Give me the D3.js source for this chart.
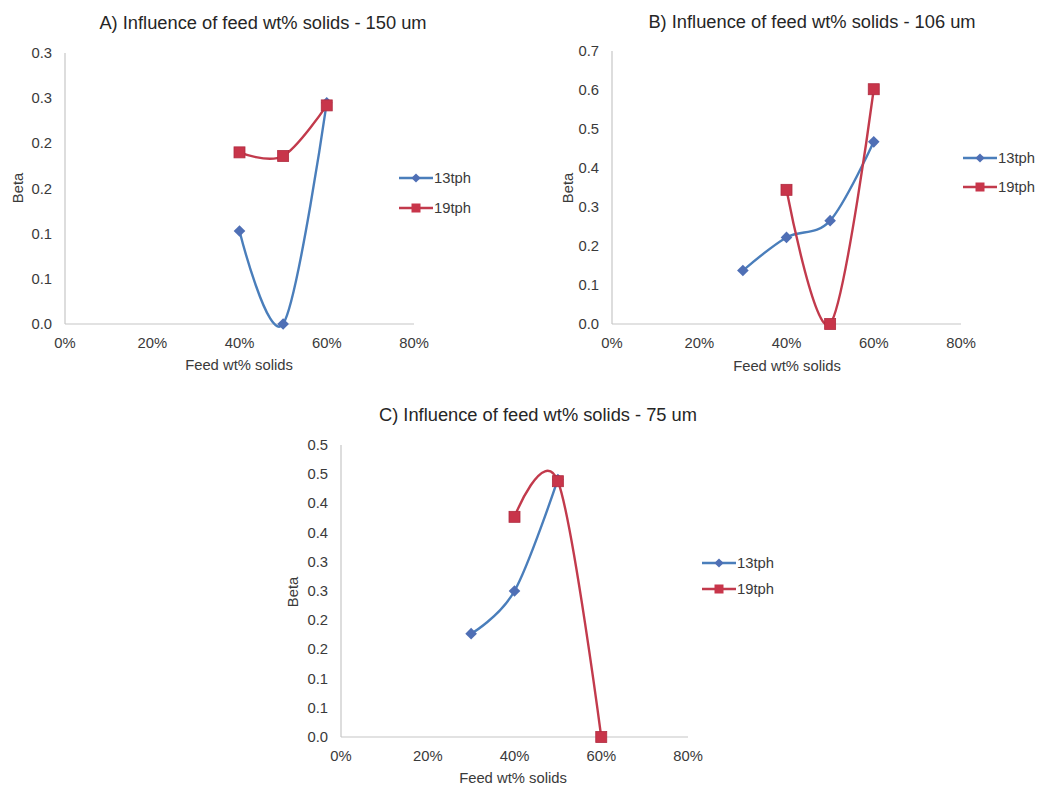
<!DOCTYPE html>
<html>
<head>
<meta charset="utf-8">
<script src="https://cdn.jsdelivr.net/npm/d3@7"></script>
<style>
  html, body { margin: 0; padding: 0; background: #ffffff; }
  svg { display: block; }
  text { font-family: "Liberation Sans", Arial, sans-serif; fill: #3a3a3a; }
</style>
</head>
<body>
<svg id="chart" width="1041" height="796"></svg>
<script>
// Feed solids (%) on the x axis, shared by all panels
const xTicks = [0, 20, 40, 60, 80];
const xTickLabels = ["0%", "20%", "40%", "60%", "80%"];

const seriesNames = ["13tph", "19tph"];

// Panel A: 150 um
const titleA = "A) Influence of feed wt% solids - 150 um";
const a13x = [40, 50, 60];
const a13y = [0.103, 0.0, 0.245];
const a19x = [40, 50, 60];
const a19y = [0.190, 0.186, 0.242];
const aYTicks = [0, 0.05, 0.10, 0.15, 0.20, 0.25, 0.30];
const aYTickLabels = ["0.0", "0.1", "0.1", "0.2", "0.2", "0.3", "0.3"];

// Panel B: 106 um
const titleB = "B) Influence of feed wt% solids - 106 um";
const b13x = [30, 40, 50, 60];
const b13y = [0.137, 0.222, 0.265, 0.467];
const b19x = [40, 50, 60];
const b19y = [0.344, 0.0, 0.602];
const bYTicks = [0, 0.1, 0.2, 0.3, 0.4, 0.5, 0.6, 0.7];
const bYTickLabels = ["0.0", "0.1", "0.2", "0.3", "0.4", "0.5", "0.6", "0.7"];

// Panel C: 75 um
const titleC = "C) Influence of feed wt% solids - 75 um";
const c13x = [30, 40, 50];
const c13y = [0.177, 0.250, 0.441];
const c19x = [40, 50, 60];
const c19y = [0.377, 0.438, 0.0];
const cYTicks = [0, 0.05, 0.10, 0.15, 0.20, 0.25, 0.30, 0.35, 0.40, 0.45, 0.50];
const cYTickLabels = ["0.0", "0.1", "0.1", "0.2", "0.2", "0.3", "0.3", "0.4", "0.4", "0.5", "0.5"];

const xAxisTitle = "Feed wt% solids";
const yAxisTitle = "Beta";

const colors = { line13: "#4a7ebb", mark13: "#4f6fb5", line19: "#c23a4c", mark19: "#c8354a" };

const svg = d3.select("#chart");

function zip(xs, ys) { return xs.map((x, i) => ({ x: x, y: ys[i] })); }

// diamond marker with half-diagonal r
function diamondPath(r) { return `M0,${-r}L${r},0L0,${r}L${-r},0Z`; }

function drawPanel(p) {
  const g = svg.append("g");
  const x = d3.scaleLinear().domain([0, 80]).range([p.left, p.right]);
  const y = d3.scaleLinear().domain([0, p.yMax]).range([p.bottom, p.top]);

  // title
  g.append("text").attr("x", p.titleX).attr("y", p.titleY)
    .attr("text-anchor", "middle").style("font-size", "18.3px").style("fill", "#262626")
    .text(p.title);

  // axes lines
  g.append("line").attr("x1", x(0)).attr("x2", x(0)).attr("y1", y(p.yMax)).attr("y2", y(0))
    .attr("stroke", "#c6c6c6").attr("stroke-width", 1.2);
  g.append("line").attr("x1", x(0)).attr("x2", x(80)).attr("y1", y(0)).attr("y2", y(0))
    .attr("stroke", "#c6c6c6").attr("stroke-width", 1.2);

  // y tick labels
  g.selectAll(".yt").data(p.yTicks).enter().append("text")
    .attr("x", x(0) - 13).attr("y", d => y(d) + 5)
    .attr("text-anchor", "end").style("font-size", "14.8px")
    .text((d, i) => p.yTickLabels[i]);

  // x tick labels
  g.selectAll(".xt").data(xTicks).enter().append("text")
    .attr("x", d => x(d)).attr("y", y(0) + 24)
    .attr("text-anchor", "middle").style("font-size", "14.8px")
    .text((d, i) => xTickLabels[i]);

  // axis titles
  g.append("text").attr("x", p.xtX).attr("y", p.xtY)
    .attr("text-anchor", "middle").style("font-size", "14.8px").text(xAxisTitle);
  g.append("text").attr("transform", `translate(${p.ytX},${p.ytY}) rotate(-90)`)
    .attr("text-anchor", "middle").style("font-size", "14.8px").text(yAxisTitle);

  // smoothed series lines
  const line = d3.line().x(d => x(d.x)).y(d => y(d.y)).curve(d3.curveCardinal.tension(0));
  const s13 = zip(p.s13x, p.s13y);
  const s19 = zip(p.s19x, p.s19y);

  function drawSeries(data, lineColor, markColor, isSquare) {
    g.append("path").datum(data).attr("d", line)
      .attr("fill", "none").attr("stroke", lineColor).attr("stroke-width", 2.4);
    if (isSquare) {
      g.selectAll(null).data(data).enter().append("rect")
        .attr("x", d => x(d.x) - 5.5).attr("y", d => y(d.y) - 5.5)
        .attr("width", 11).attr("height", 11)
        .attr("fill", markColor).attr("stroke", "#b02c40").attr("stroke-width", 0.8);
    } else {
      g.selectAll(null).data(data).enter().append("path")
        .attr("d", diamondPath(5.8))
        .attr("transform", d => `translate(${x(d.x)},${y(d.y)})`)
        .attr("fill", markColor);
    }
  }
  drawSeries(s13, colors.line13, colors.mark13, false);
  drawSeries(s19, colors.line19, colors.mark19, true);

  // legend
  const lg = g.append("g");
  [0, 1].forEach(i => {
    const ly = p.legY[i];
    lg.append("line").attr("x1", p.legX).attr("x2", p.legX + 34).attr("y1", ly).attr("y2", ly)
      .attr("stroke", i === 0 ? colors.line13 : colors.line19).attr("stroke-width", 2.4);
    const cx = p.legX + 17;
    if (i === 0) {
      lg.append("path").attr("d", diamondPath(4.6))
        .attr("transform", `translate(${cx},${ly})`).attr("fill", colors.mark13);
    } else {
      lg.append("rect").attr("x", cx - 4.5).attr("y", ly - 4.5).attr("width", 9).attr("height", 9)
        .attr("fill", colors.mark19);
    }
    lg.append("text").attr("x", p.legX + 35).attr("y", ly + 5)
      .style("font-size", "14.8px").text(seriesNames[i]);
  });
}

drawPanel({
  title: titleA, titleX: 263, titleY: 29,
  left: 65, right: 414, top: 53, bottom: 324, yMax: 0.30,
  yTicks: aYTicks, yTickLabels: aYTickLabels,
  s13x: a13x, s13y: a13y, s19x: a19x, s19y: a19y,
  xtX: 239, xtY: 370, ytX: 23, ytY: 188,
  legX: 399, legY: [178, 208]
});

drawPanel({
  title: titleB, titleX: 812, titleY: 28,
  left: 612, right: 961, top: 51, bottom: 324, yMax: 0.70,
  yTicks: bYTicks, yTickLabels: bYTickLabels,
  s13x: b13x, s13y: b13y, s19x: b19x, s19y: b19y,
  xtX: 787, xtY: 371, ytX: 573, ytY: 188,
  legX: 963, legY: [158, 187]
});

drawPanel({
  title: titleC, titleX: 538, titleY: 421,
  left: 341, right: 688, top: 445, bottom: 737, yMax: 0.50,
  yTicks: cYTicks, yTickLabels: cYTickLabels,
  s13x: c13x, s13y: c13y, s19x: c19x, s19y: c19y,
  xtX: 513, xtY: 783, ytX: 298, ytY: 592,
  legX: 702, legY: [563, 589]
});
</script>
</body>
</html>
